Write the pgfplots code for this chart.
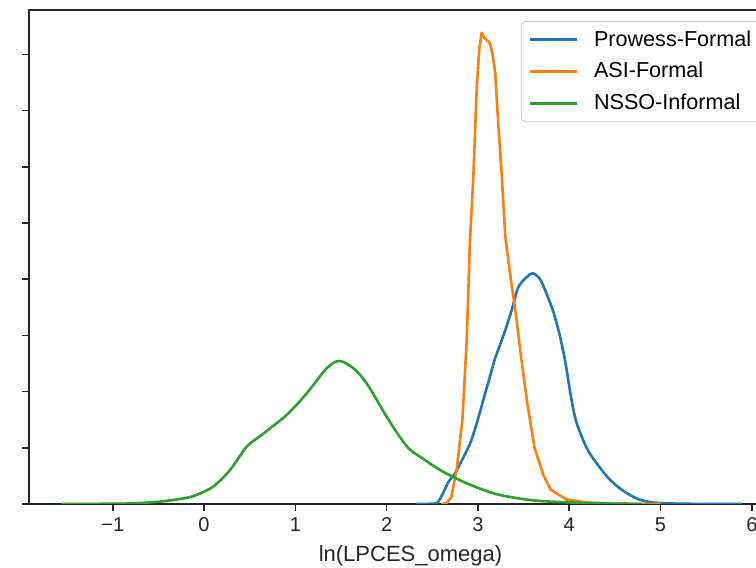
\documentclass[border=0pt]{standalone}
\usepackage{pgfplots}
\pgfplotsset{compat=1.18}
\usepackage{fontspec}
\setmainfont{Liberation Sans}

\definecolor{tabblue}{HTML}{1F77B4}
\definecolor{taborange}{HTML}{FF7F0E}
\definecolor{tabgreen}{HTML}{2CA02C}

\begin{document}
\begin{tikzpicture}
\begin{axis}[
  x=45.65pt, y=140.5pt,
  xmin=-1.917, xmax=6.44, ymin=0, ymax=1.758,
  axis line style={line width=0.8pt, draw=black!85},
  tick style={line width=0.8pt, draw=black!85},
  tick align=outside, major tick length=3.3pt,
  xtick={-1,0,1,2,3,4,5,6},
  xticklabels={−1,0,1,2,3,4,5,6},
  ytick={0,0.2,0.4,0.6,0.8,1.0,1.2,1.4,1.6},
  yticklabels={},
  xtick pos=bottom, ytick pos=left,
  ticklabel style={font=\fontsize{10}{12}\selectfont, text=black!85},
  xlabel={ln(LPCES\_omega)},
  label style={font=\fontsize{11}{13}\selectfont, text=black!85},
  legend cell align=left,
  legend image code/.code={\draw[#1, line width=1.3pt] (0pt,0pt) -- (23.5pt,0pt);},
  legend style={at={(axis cs:3.472,1.719)}, anchor=north west,
    draw=black!20, rounded corners=2pt, fill=white, fill opacity=0.8,
    text opacity=1, font=\fontsize{10.8}{13}\selectfont,
    inner xsep=3.5pt, inner ysep=2.5pt, row sep=2.6pt,
    /tikz/every odd column/.append style={column sep=6pt}},
]
% seaborn-style kde curves
\addplot[tabblue, line width=1.3pt, smooth, tension=0.5] coordinates {
  (2.32,0) (2.50,0.001) (2.56,0.006) (2.62,0.04) (2.68,0.08) (2.75,0.11)
  (2.84,0.165) (2.92,0.22) (2.99,0.29) (3.05,0.36) (3.12,0.44) (3.19,0.52)
  (3.28,0.60) (3.37,0.69) (3.44,0.77) (3.53,0.806) (3.60,0.821) (3.68,0.80)
  (3.75,0.75) (3.83,0.68) (3.90,0.595) (3.96,0.50) (4.02,0.38) (4.08,0.29)
  (4.19,0.20) (4.30,0.145) (4.45,0.085) (4.60,0.045) (4.75,0.018) (4.90,0.006)
  (5.10,0.002) (5.40,0.0005) (5.89,0)
};
\addlegendentry{Prowess-Formal}
\addplot[taborange, line width=1.3pt, line join=round] coordinates {
  (2.60,0) (2.66,0.003) (2.71,0.026) (2.77,0.13) (2.83,0.30) (2.877,0.58)
  (2.913,0.94) (2.95,1.165) (2.987,1.485) (3.015,1.62) (3.041,1.677)
  (3.07,1.66) (3.096,1.651) (3.13,1.642) (3.16,1.60) (3.19,1.533) (3.22,1.367)
  (3.26,1.175) (3.30,0.95) (3.36,0.80) (3.41,0.69) (3.47,0.53) (3.54,0.36)
  (3.62,0.20) (3.72,0.10) (3.80,0.05) (3.97,0.016) (4.20,0.005) (4.50,0.001)
  (5.00,0)
};
\addlegendentry{ASI-Formal}
\addplot[tabgreen, line width=1.3pt, smooth, tension=0.5] coordinates {
  (-1.566,0) (-1.2,0.0005) (-0.8,0.002) (-0.5,0.008) (-0.26,0.018) (-0.1,0.03)
  (0.1,0.062) (0.285,0.121) (0.467,0.204) (0.632,0.246) (0.905,0.317)
  (1.125,0.394) (1.344,0.483) (1.482,0.509) (1.636,0.483) (1.782,0.429)
  (2.0,0.311) (2.15,0.236) (2.25,0.195) (2.366,0.168) (2.585,0.121)
  (2.80,0.085) (3.02,0.055) (3.24,0.032) (3.60,0.013) (3.97,0.006)
  (4.40,0.002) (4.80,0)
};
\addlegendentry{NSSO-Informal}
\coordinate (bbsw) at (axis cs:-2.235,-0.2278);
\coordinate (bbne) at (axis cs:6.046,1.7936);
\end{axis}
\pgfresetboundingbox
\path[use as bounding box] (bbsw) rectangle (bbne);
\end{tikzpicture}
\end{document}
